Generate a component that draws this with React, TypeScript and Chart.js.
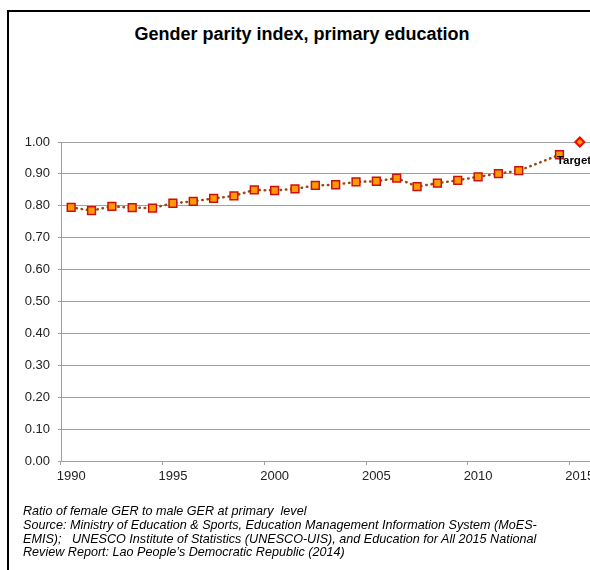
import React, { useEffect, useRef } from "react";
import { Chart, registerables } from "chart.js";

Chart.register(...registerables);

const years: string[] = [
  "1990", "1991", "1992", "1993", "1994", "1995", "1996", "1997", "1998", "1999",
  "2000", "2001", "2002", "2003", "2004", "2005", "2006", "2007", "2008", "2009",
  "2010", "2011", "2012", "2013", "2014", "2015",
];

const gpiValues: (number | null)[] = [
  0.795, 0.785, 0.798, 0.794, 0.793, 0.808, 0.814, 0.823, 0.831, 0.85,
  0.848, 0.853, 0.864, 0.866, 0.875, 0.877, 0.887, 0.86, 0.871, 0.88,
  0.891, 0.901, 0.91, null, 0.96, null,
];

const targetValues: (number | null)[] = [
  null, null, null, null, null, null, null, null, null, null,
  null, null, null, null, null, null, null, null, null, null,
  null, null, null, null, null, 1.0,
];

const labeledEvery = 5;
const targetLabel = "Target";
const titleText = "Gender parity index, primary education";
const footnoteLines: string[] = [
  "Ratio of female GER to male GER at primary  level",
  "Source: Ministry of Education & Sports, Education Management Information System (MoES-",
  "EMIS);   UNESCO Institute of Statistics (UNESCO-UIS), and Education for All 2015 National",
  "Review Report: Lao People\u2019s Democratic Republic (2014)",
];

const FONT = '"Liberation Sans", Arial, sans-serif';
const GRID = "#a0a0a0";

export default function App() {
  const canvasRef = useRef<HTMLCanvasElement | null>(null);

  useEffect(() => {
    const canvas = canvasRef.current;
    if (!canvas) return;

    const targetLabelPlugin = {
      id: "targetLabel",
      afterDatasetsDraw(chart: any) {
        const meta = chart.getDatasetMeta(1);
        const idx = targetValues.findIndex((v) => v !== null);
        const el = meta.data[idx];
        if (!el) return;
        const ctx = chart.ctx;
        ctx.save();
        ctx.font = `bold 11.5px ${FONT}`;
        ctx.fillStyle = "#000";
        ctx.textAlign = "left";
        ctx.textBaseline = "alphabetic";
        ctx.fillText(targetLabel, el.x - 23, el.y + 22);
        ctx.restore();
      },
    };

    const chart = new Chart(canvas, {
      type: "line",
      data: {
        labels: years,
        datasets: [
          {
            label: "GPI",
            data: gpiValues,
            spanGaps: true,
            borderColor: "#9a4a0c",
            borderWidth: 2.5,
            borderDash: [0.5, 4.8],
            borderCapStyle: "round",
            pointStyle: "rect",
            pointRadius: 5.5,
            pointBorderWidth: 1.5,
            pointBorderColor: "#cc1010",
            pointBackgroundColor: "#ff9a00",
            clip: false,
            tension: 0,
          },
          {
            label: "Target",
            data: targetValues,
            showLine: false,
            pointStyle: "rectRot",
            pointRadius: 4.5,
            pointBorderWidth: 2,
            pointBorderColor: "#ff0000",
            pointBackgroundColor: "#ff9a00",
            clip: false,
          },
        ],
      } as any,
      options: {
        animation: false,
        responsive: false,
        maintainAspectRatio: false,
        devicePixelRatio: 1,
        layout: { padding: { left: 0, right: 10, top: 142, bottom: 79 } },
        plugins: {
          legend: { display: false },
          title: { display: false },
          tooltip: { enabled: false },
        },
        scales: {
          x: {
            type: "category",
            offset: true,
            afterFit: (scale: any) => {
              scale.height = 30;
            },
            grid: {
              offset: true,
              drawOnChartArea: false,
              drawTicks: true,
              tickLength: 4,
              color: (c: any) =>
                c.index !== undefined && c.index % labeledEvery === 0 ? GRID : "rgba(0,0,0,0)",
            },
            border: { color: GRID, width: 1 },
            ticks: {
              autoSkip: false,
              maxRotation: 0,
              minRotation: 0,
              padding: 4,
              color: "#222",
              font: { family: FONT, size: 13 },
              callback: (_v: any, i: number) => (i % labeledEvery === 0 ? years[i] : ""),
            },
          },
          y: {
            min: 0,
            max: 1,
            afterFit: (scale: any) => {
              scale.width = 61;
            },
            grid: { color: GRID, lineWidth: 1, tickLength: 3 },
            border: { color: GRID, width: 1 },
            ticks: {
              stepSize: 0.1,
              padding: 8,
              color: "#222",
              font: { family: FONT, size: 13 },
              callback: (v: any) => Number(v).toFixed(2),
            },
          },
        },
      } as any,
      plugins: [targetLabelPlugin],
    });

    return () => chart.destroy();
  }, []);

  return (
    <div
      style={{
        position: "absolute",
        left: 0,
        top: 0,
        width: 590,
        height: 570,
        overflow: "hidden",
        background: "#fff",
      }}
    >
      <div
        style={{
          position: "absolute",
          left: 7,
          top: 10,
          width: 600,
          height: 600,
          border: "2px solid #000",
          boxSizing: "border-box",
        }}
      />
      <div
        style={{
          position: "absolute",
          left: 0,
          top: 24,
          width: 604,
          textAlign: "center",
          font: `bold 18px ${FONT}`,
          lineHeight: "20px",
          color: "#000",
          whiteSpace: "pre",
        }}
      >
        {titleText}
      </div>
      <canvas
        ref={canvasRef}
        width={600}
        height={570}
        style={{ position: "absolute", left: 0, top: 0, width: 600, height: 570 }}
      />
      <div
        style={{
          position: "absolute",
          left: 23,
          top: 505,
          font: `italic 12.6px ${FONT}`,
          lineHeight: "13.8px",
          color: "#000",
          whiteSpace: "pre",
        }}
      >
        {footnoteLines.map((l, i) => (
          <div key={i}>{l}</div>
        ))}
      </div>
    </div>
  );
}
